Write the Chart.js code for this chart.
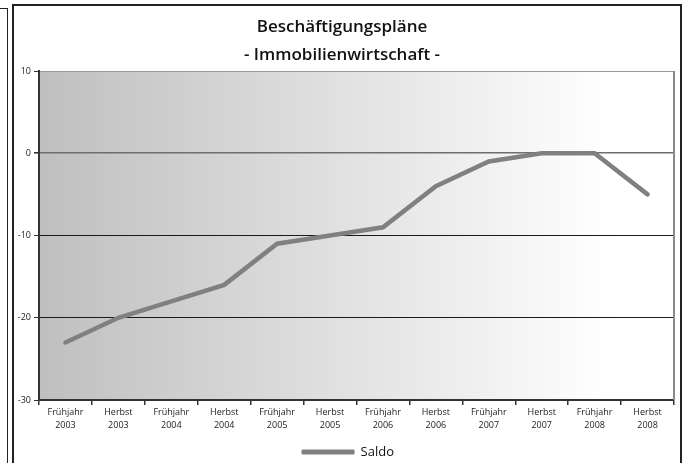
<!DOCTYPE html>
<html>
<head>
<meta charset="utf-8">
<script src="https://cdn.jsdelivr.net/npm/chart.js@4.4.1/dist/chart.umd.min.js"></script>
<style>
  html, body { margin: 0; padding: 0; background: #fff; }
  #wrap { position: relative; width: 687px; height: 463px; overflow: hidden; background: #fff; }
  #frameLeft { position: absolute; left: -3px; top: 8px; width: 10px; height: 500px; border-top: 1px solid #222; border-right: 1px solid #222; }
  #frameMain { position: absolute; left: 12px; top: 4px; width: 666px; height: 500px; border: 2px solid #222; }
  canvas { position: absolute; left: 0; top: 0; }
</style>
</head>
<body>
<div id="wrap">
  <div id="frameLeft"></div>
  <div id="frameMain"></div>
  <canvas id="c" width="687" height="463"></canvas>
</div>
<script>
const titleLines = ['Beschäftigungspläne', '- Immobilienwirtschaft -'];
const seasons = ['Frühjahr', 'Herbst', 'Frühjahr', 'Herbst', 'Frühjahr', 'Herbst', 'Frühjahr', 'Herbst', 'Frühjahr', 'Herbst', 'Frühjahr', 'Herbst'];
const years = ['2003', '2003', '2004', '2004', '2005', '2005', '2006', '2006', '2007', '2007', '2008', '2008'];
const saldo = [-23, -20, -18, -16, -11, -10, -9, -4, -1, 0, 0, -5];
const seriesName = 'Saldo';
const yMin = -30, yMax = 10, yStep = 10;

const categories = seasons.map((s, i) => [s, years[i]]);

const bgPlugin = {
  id: 'bgPlugin',
  afterLayout(chart) {
    const lg = chart.legend;
    if (lg) {
      lg.left += 6; lg.right += 6;
      lg.top += 5.5; lg.bottom += 5.5;
    }
  },
  beforeDraw(chart) {
    const { ctx, chartArea: a } = chart;
    const g = ctx.createLinearGradient(a.left, 0, a.right, 0);
    g.addColorStop(0, '#bfbfbf');
    g.addColorStop(0.9, '#ffffff');
    g.addColorStop(1, '#ffffff');
    ctx.save();
    ctx.fillStyle = g;
    ctx.fillRect(a.left, a.top, a.right - a.left, a.bottom - a.top);
    ctx.restore();
  },
  afterDraw(chart) {
    const { ctx, chartArea: a } = chart;
    ctx.save();
    ctx.strokeStyle = '#8a8a8a';
    ctx.lineWidth = 2;
    ctx.beginPath();
    ctx.moveTo(a.right, a.top);
    ctx.lineTo(a.right, a.bottom);
    ctx.stroke();
    ctx.restore();
  }
};

new Chart(document.getElementById('c'), {
  type: 'line',
  data: {
    labels: categories,
    datasets: [{
      label: seriesName,
      data: saldo,
      borderColor: '#808080',
      backgroundColor: '#808080',
      borderWidth: 4.5,
      borderCapStyle: 'round',
      borderJoinStyle: 'miter',
      pointRadius: 0,
      tension: 0,
      fill: false
    }]
  },
  options: {
    responsive: false,
    animation: false,
    layout: { padding: { left: 10, right: 13, top: 4, bottom: 0 } },
    plugins: {
      title: {
        display: true,
        text: titleLines,
        color: '#111',
        font: { family: 'Open Sans', size: 17, weight: '600', lineHeight: 1.6 },
        padding: { top: 10, bottom: 2.6 }
      },
      legend: {
        display: true,
        position: 'bottom',
        labels: {
          color: '#111',
          font: { family: 'Open Sans', size: 13 },
          boxWidth: 52,
          boxHeight: 4,
          padding: 2,
          generateLabels(chart) {
            return chart.data.datasets.map((ds, i) => ({
              text: ds.label,
              fillStyle: '#808080',
              strokeStyle: '#808080',
              lineWidth: 1,
              hidden: false,
              datasetIndex: i,
              fontColor: '#111'
            }));
          }
        }
      },
      tooltip: { enabled: false }
    },
    scales: {
      x: {
        offset: true,
        afterFit(scale) { scale.height = 38; },
        grid: { offset: true, drawOnChartArea: false, tickLength: 5, color: '#333', lineWidth: 1.5 },
        border: { color: '#333', width: 2 },
        ticks: {
          color: '#222',
          font: { family: 'Open Sans', size: 9, lineHeight: 1.55 },
          maxRotation: 0, autoSkip: false, padding: 0
        }
      },
      y: {
        min: yMin, max: yMax,
        afterFit(scale) { scale.width = 29; },
        grid: {
          color: ctx => ctx.tick.value === 0 ? '#6e6e6e' : (ctx.tick.value === yMax ? '#9a9a9a' : '#1a1a1a'),
          lineWidth: ctx => ctx.tick.value === 0 ? 1.6 : 1,
          tickLength: 5,
          tickColor: '#333'
        },
        border: { color: '#333', width: 2 },
        ticks: {
          stepSize: yStep,
          color: '#222',
          font: { family: 'Open Sans', size: 9 },
          padding: 3
        }
      }
    }
  },
  plugins: [bgPlugin]
});
</script>
</body>
</html>
